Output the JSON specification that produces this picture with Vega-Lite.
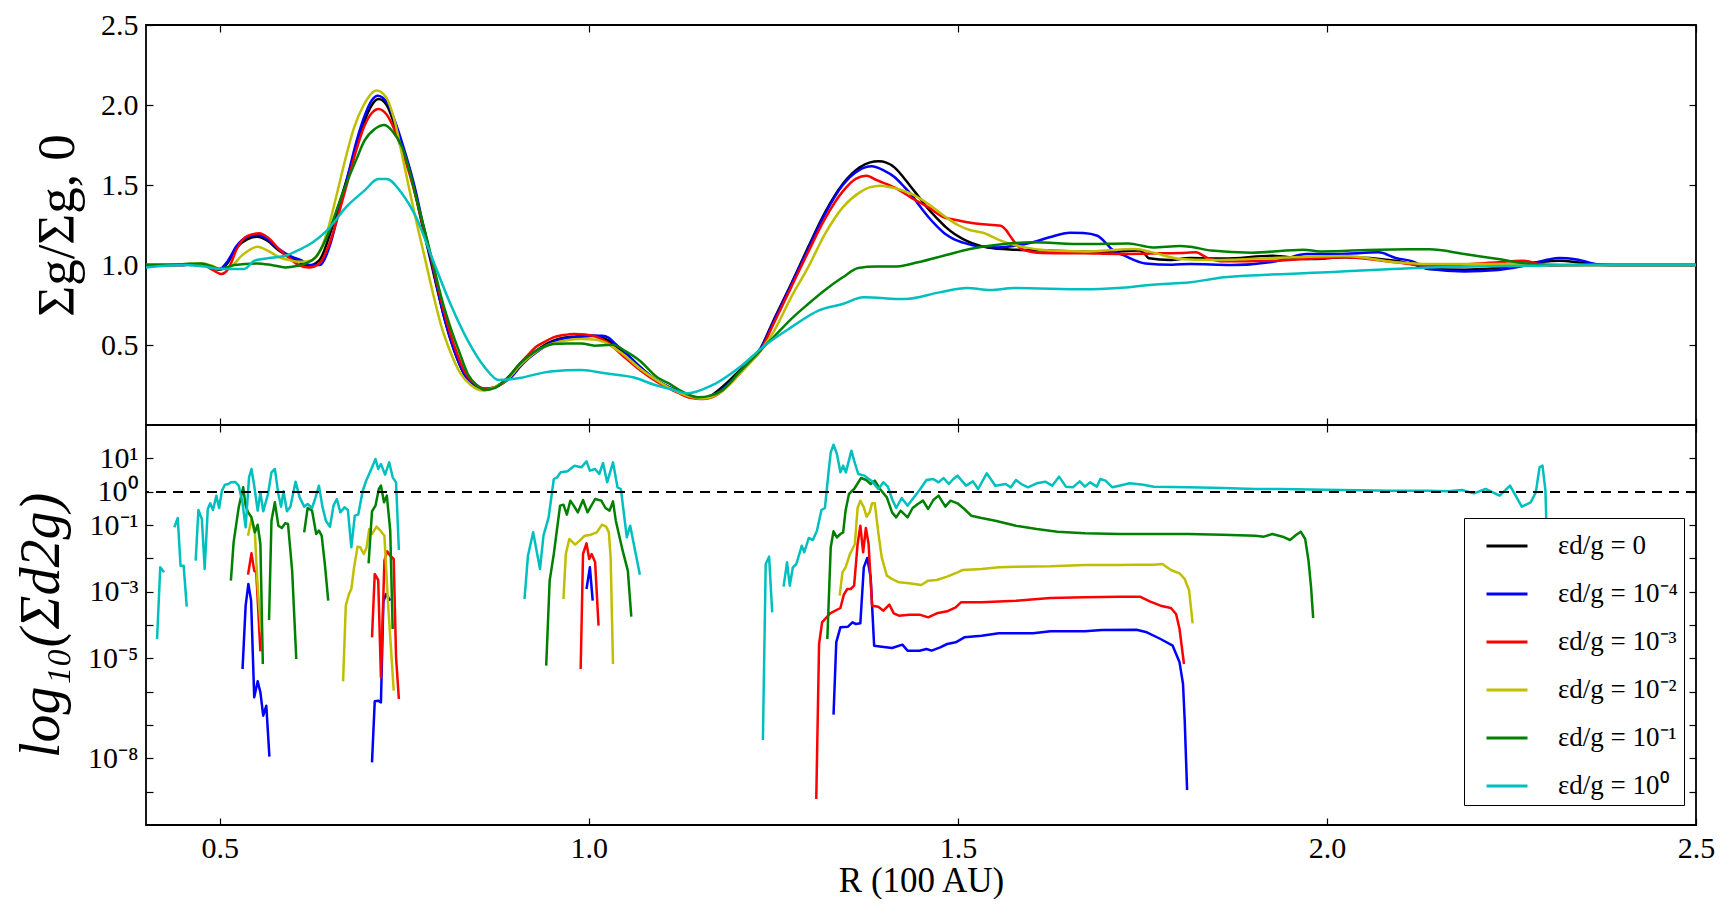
{
  "$schema": "https://vega.github.io/schema/vega-lite/v6.json",
  "background": "white",
  "padding": {"left": 12, "top": 9, "right": 0, "bottom": 0},
  "spacing": 0,
  "bounds": "flush",
  "config": {
    "font": "Liberation Serif",
    "view": {"stroke": "black", "strokeWidth": 1.8},
    "axis": {
      "domain": false, "grid": false, "tickSize": -7, "tickWidth": 1.2, "tickColor": "black",
      "labelFont": "Liberation Serif", "labelFontSize": 30, "labelColor": "black", "labelPadding": 15,
      "labelFlush": false, "labelOverlap": false,
      "titleFont": "Liberation Serif", "titleFontWeight": "normal", "titleColor": "black"
    }
  },
  "resolve": {"legend": {"color": "independent"}},
  "datasets": {
    "gas": [
      {"R":0.40,"v":1.0,"s":"0"},{"R":0.45,"v":1.0,"s":"0"},{"R":0.475,"v":1.005,"s":"0"},{"R":0.49,"v":0.98,"s":"0"},{"R":0.50,"v":0.97,"s":"0"},{"R":0.51,"v":1.01,"s":"0"},{"R":0.523,"v":1.11,"s":"0"},{"R":0.537,"v":1.16,"s":"0"},{"R":0.551,"v":1.177,"s":"0"},{"R":0.565,"v":1.15,"s":"0"},{"R":0.58,"v":1.09,"s":"0"},{"R":0.595,"v":1.05,"s":"0"},{"R":0.607,"v":1.02,"s":"0"},{"R":0.621,"v":0.996,"s":"0"},{"R":0.635,"v":1.03,"s":"0"},{"R":0.649,"v":1.19,"s":"0"},{"R":0.661,"v":1.37,"s":"0"},{"R":0.673,"v":1.55,"s":"0"},{"R":0.685,"v":1.74,"s":"0"},{"R":0.696,"v":1.9,"s":"0"},{"R":0.706,"v":2.0,"s":"0"},{"R":0.715,"v":2.037,"s":"0"},{"R":0.726,"v":2.0,"s":"0"},{"R":0.738,"v":1.86,"s":"0"},{"R":0.748,"v":1.72,"s":"0"},{"R":0.757,"v":1.59,"s":"0"},{"R":0.766,"v":1.42,"s":"0"},{"R":0.775,"v":1.235,"s":"0"},{"R":0.785,"v":1.04,"s":"0"},{"R":0.794,"v":0.86,"s":"0"},{"R":0.803,"v":0.69,"s":"0"},{"R":0.813,"v":0.527,"s":"0"},{"R":0.822,"v":0.41,"s":"0"},{"R":0.831,"v":0.318,"s":"0"},{"R":0.845,"v":0.25,"s":"0"},{"R":0.859,"v":0.225,"s":"0"},{"R":0.872,"v":0.235,"s":"0"},{"R":0.883,"v":0.267,"s":"0"},{"R":0.895,"v":0.32,"s":"0"},{"R":0.906,"v":0.381,"s":"0"},{"R":0.918,"v":0.425,"s":"0"},{"R":0.929,"v":0.465,"s":"0"},{"R":0.94,"v":0.5,"s":"0"},{"R":0.952,"v":0.527,"s":"0"},{"R":0.966,"v":0.545,"s":"0"},{"R":0.98,"v":0.552,"s":"0"},{"R":0.995,"v":0.556,"s":"0"},{"R":1.008,"v":0.558,"s":"0"},{"R":1.018,"v":0.548,"s":"0"},{"R":1.027,"v":0.527,"s":"0"},{"R":1.04,"v":0.48,"s":"0"},{"R":1.055,"v":0.423,"s":"0"},{"R":1.075,"v":0.34,"s":"0"},{"R":1.092,"v":0.277,"s":"0"},{"R":1.11,"v":0.23,"s":"0"},{"R":1.124,"v":0.205,"s":"0"},{"R":1.138,"v":0.18,"s":"0"},{"R":1.153,"v":0.167,"s":"0"},{"R":1.166,"v":0.185,"s":"0"},{"R":1.18,"v":0.235,"s":"0"},{"R":1.192,"v":0.285,"s":"0"},{"R":1.204,"v":0.34,"s":"0"},{"R":1.218,"v":0.4,"s":"0"},{"R":1.232,"v":0.475,"s":"0"},{"R":1.25,"v":0.652,"s":"0"},{"R":1.274,"v":0.881,"s":"0"},{"R":1.297,"v":1.11,"s":"0"},{"R":1.32,"v":1.329,"s":"0"},{"R":1.344,"v":1.506,"s":"0"},{"R":1.367,"v":1.61,"s":"0"},{"R":1.38,"v":1.64,"s":"0"},{"R":1.393,"v":1.648,"s":"0"},{"R":1.403,"v":1.64,"s":"0"},{"R":1.414,"v":1.61,"s":"0"},{"R":1.425,"v":1.555,"s":"0"},{"R":1.437,"v":1.485,"s":"0"},{"R":1.448,"v":1.42,"s":"0"},{"R":1.46,"v":1.35,"s":"0"},{"R":1.472,"v":1.29,"s":"0"},{"R":1.484,"v":1.235,"s":"0"},{"R":1.495,"v":1.195,"s":"0"},{"R":1.507,"v":1.162,"s":"0"},{"R":1.52,"v":1.135,"s":"0"},{"R":1.54,"v":1.11,"s":"0"},{"R":1.577,"v":1.096,"s":"0"},{"R":1.624,"v":1.09,"s":"0"},{"R":1.671,"v":1.083,"s":"0"},{"R":1.717,"v":1.085,"s":"0"},{"R":1.745,"v":1.09,"s":"0"},{"R":1.752,"v":1.075,"s":"0"},{"R":1.759,"v":1.042,"s":"0"},{"R":1.787,"v":1.031,"s":"0"},{"R":1.815,"v":1.044,"s":"0"},{"R":1.861,"v":1.04,"s":"0"},{"R":1.926,"v":1.058,"s":"0"},{"R":1.977,"v":1.037,"s":"0"},{"R":2.024,"v":1.048,"s":"0"},{"R":2.093,"v":1.027,"s":"0"},{"R":2.12,"v":1.0,"s":"0"},{"R":2.139,"v":0.975,"s":"0"},{"R":2.186,"v":0.971,"s":"0"},{"R":2.225,"v":0.98,"s":"0"},{"R":2.255,"v":0.996,"s":"0"},{"R":2.29,"v":1.02,"s":"0"},{"R":2.315,"v":1.027,"s":"0"},{"R":2.345,"v":1.015,"s":"0"},{"R":2.371,"v":1.002,"s":"0"},{"R":2.4,"v":1.0,"s":"0"},{"R":2.5,"v":1.0,"s":"0"},

      {"R":0.40,"v":1.0,"s":"10⁻⁴"},{"R":0.45,"v":1.0,"s":"10⁻⁴"},{"R":0.475,"v":1.005,"s":"10⁻⁴"},{"R":0.49,"v":0.985,"s":"10⁻⁴"},{"R":0.50,"v":0.975,"s":"10⁻⁴"},{"R":0.51,"v":1.02,"s":"10⁻⁴"},{"R":0.523,"v":1.12,"s":"10⁻⁴"},{"R":0.537,"v":1.175,"s":"10⁻⁴"},{"R":0.551,"v":1.187,"s":"10⁻⁴"},{"R":0.565,"v":1.16,"s":"10⁻⁴"},{"R":0.58,"v":1.1,"s":"10⁻⁴"},{"R":0.598,"v":1.05,"s":"10⁻⁴"},{"R":0.61,"v":1.03,"s":"10⁻⁴"},{"R":0.621,"v":1.0,"s":"10⁻⁴"},{"R":0.635,"v":1.0,"s":"10⁻⁴"},{"R":0.649,"v":1.12,"s":"10⁻⁴"},{"R":0.661,"v":1.33,"s":"10⁻⁴"},{"R":0.673,"v":1.55,"s":"10⁻⁴"},{"R":0.685,"v":1.77,"s":"10⁻⁴"},{"R":0.696,"v":1.93,"s":"10⁻⁴"},{"R":0.706,"v":2.03,"s":"10⁻⁴"},{"R":0.714,"v":2.058,"s":"10⁻⁴"},{"R":0.726,"v":2.02,"s":"10⁻⁴"},{"R":0.738,"v":1.89,"s":"10⁻⁴"},{"R":0.748,"v":1.75,"s":"10⁻⁴"},{"R":0.757,"v":1.61,"s":"10⁻⁴"},{"R":0.766,"v":1.45,"s":"10⁻⁴"},{"R":0.775,"v":1.26,"s":"10⁻⁴"},{"R":0.785,"v":1.06,"s":"10⁻⁴"},{"R":0.794,"v":0.87,"s":"10⁻⁴"},{"R":0.803,"v":0.69,"s":"10⁻⁴"},{"R":0.813,"v":0.53,"s":"10⁻⁴"},{"R":0.822,"v":0.41,"s":"10⁻⁴"},{"R":0.831,"v":0.318,"s":"10⁻⁴"},{"R":0.845,"v":0.25,"s":"10⁻⁴"},{"R":0.859,"v":0.225,"s":"10⁻⁴"},{"R":0.872,"v":0.235,"s":"10⁻⁴"},{"R":0.883,"v":0.26,"s":"10⁻⁴"},{"R":0.895,"v":0.3,"s":"10⁻⁴"},{"R":0.906,"v":0.36,"s":"10⁻⁴"},{"R":0.918,"v":0.415,"s":"10⁻⁴"},{"R":0.929,"v":0.455,"s":"10⁻⁴"},{"R":0.94,"v":0.49,"s":"10⁻⁴"},{"R":0.952,"v":0.52,"s":"10⁻⁴"},{"R":0.966,"v":0.54,"s":"10⁻⁴"},{"R":0.98,"v":0.548,"s":"10⁻⁴"},{"R":0.995,"v":0.555,"s":"10⁻⁴"},{"R":1.008,"v":0.558,"s":"10⁻⁴"},{"R":1.018,"v":0.558,"s":"10⁻⁴"},{"R":1.027,"v":0.545,"s":"10⁻⁴"},{"R":1.036,"v":0.506,"s":"10⁻⁴"},{"R":1.05,"v":0.45,"s":"10⁻⁴"},{"R":1.07,"v":0.36,"s":"10⁻⁴"},{"R":1.092,"v":0.28,"s":"10⁻⁴"},{"R":1.11,"v":0.235,"s":"10⁻⁴"},{"R":1.124,"v":0.205,"s":"10⁻⁴"},{"R":1.138,"v":0.18,"s":"10⁻⁴"},{"R":1.153,"v":0.167,"s":"10⁻⁴"},{"R":1.166,"v":0.18,"s":"10⁻⁴"},{"R":1.18,"v":0.22,"s":"10⁻⁴"},{"R":1.192,"v":0.27,"s":"10⁻⁴"},{"R":1.204,"v":0.33,"s":"10⁻⁴"},{"R":1.218,"v":0.4,"s":"10⁻⁴"},{"R":1.232,"v":0.47,"s":"10⁻⁴"},{"R":1.25,"v":0.645,"s":"10⁻⁴"},{"R":1.274,"v":0.875,"s":"10⁻⁴"},{"R":1.297,"v":1.1,"s":"10⁻⁴"},{"R":1.32,"v":1.32,"s":"10⁻⁴"},{"R":1.344,"v":1.5,"s":"10⁻⁴"},{"R":1.365,"v":1.59,"s":"10⁻⁴"},{"R":1.383,"v":1.617,"s":"10⁻⁴"},{"R":1.4,"v":1.59,"s":"10⁻⁴"},{"R":1.414,"v":1.55,"s":"10⁻⁴"},{"R":1.425,"v":1.5,"s":"10⁻⁴"},{"R":1.437,"v":1.44,"s":"10⁻⁴"},{"R":1.448,"v":1.37,"s":"10⁻⁴"},{"R":1.46,"v":1.3,"s":"10⁻⁴"},{"R":1.472,"v":1.24,"s":"10⁻⁴"},{"R":1.484,"v":1.19,"s":"10⁻⁴"},{"R":1.495,"v":1.16,"s":"10⁻⁴"},{"R":1.507,"v":1.14,"s":"10⁻⁴"},{"R":1.53,"v":1.115,"s":"10⁻⁴"},{"R":1.554,"v":1.11,"s":"10⁻⁴"},{"R":1.577,"v":1.12,"s":"10⁻⁴"},{"R":1.6,"v":1.14,"s":"10⁻⁴"},{"R":1.624,"v":1.173,"s":"10⁻⁴"},{"R":1.652,"v":1.202,"s":"10⁻⁴"},{"R":1.67,"v":1.2,"s":"10⁻⁴"},{"R":1.689,"v":1.183,"s":"10⁻⁴"},{"R":1.7,"v":1.14,"s":"10⁻⁴"},{"R":1.708,"v":1.1,"s":"10⁻⁴"},{"R":1.726,"v":1.058,"s":"10⁻⁴"},{"R":1.754,"v":1.01,"s":"10⁻⁴"},{"R":1.79,"v":1.002,"s":"10⁻⁴"},{"R":1.815,"v":1.006,"s":"10⁻⁴"},{"R":1.871,"v":1.0,"s":"10⁻⁴"},{"R":1.931,"v":1.023,"s":"10⁻⁴"},{"R":1.973,"v":1.069,"s":"10⁻⁴"},{"R":2.014,"v":1.069,"s":"10⁻⁴"},{"R":2.07,"v":1.079,"s":"10⁻⁴"},{"R":2.093,"v":1.044,"s":"10⁻⁴"},{"R":2.116,"v":1.023,"s":"10⁻⁴"},{"R":2.139,"v":0.975,"s":"10⁻⁴"},{"R":2.186,"v":0.96,"s":"10⁻⁴"},{"R":2.232,"v":0.969,"s":"10⁻⁴"},{"R":2.269,"v":0.996,"s":"10⁻⁴"},{"R":2.3,"v":1.035,"s":"10⁻⁴"},{"R":2.315,"v":1.044,"s":"10⁻⁴"},{"R":2.338,"v":1.035,"s":"10⁻⁴"},{"R":2.371,"v":1.002,"s":"10⁻⁴"},{"R":2.4,"v":1.0,"s":"10⁻⁴"},{"R":2.5,"v":1.0,"s":"10⁻⁴"},

      {"R":0.40,"v":1.0,"s":"10⁻³"},{"R":0.45,"v":1.0,"s":"10⁻³"},{"R":0.475,"v":1.005,"s":"10⁻³"},{"R":0.49,"v":0.97,"s":"10⁻³"},{"R":0.502,"v":0.944,"s":"10⁻³"},{"R":0.512,"v":0.98,"s":"10⁻³"},{"R":0.523,"v":1.1,"s":"10⁻³"},{"R":0.537,"v":1.18,"s":"10⁻³"},{"R":0.553,"v":1.198,"s":"10⁻³"},{"R":0.567,"v":1.165,"s":"10⁻³"},{"R":0.58,"v":1.1,"s":"10⁻³"},{"R":0.595,"v":1.04,"s":"10⁻³"},{"R":0.607,"v":1.0,"s":"10⁻³"},{"R":0.621,"v":0.985,"s":"10⁻³"},{"R":0.635,"v":1.01,"s":"10⁻³"},{"R":0.649,"v":1.14,"s":"10⁻³"},{"R":0.661,"v":1.32,"s":"10⁻³"},{"R":0.673,"v":1.52,"s":"10⁻³"},{"R":0.685,"v":1.72,"s":"10⁻³"},{"R":0.696,"v":1.87,"s":"10⁻³"},{"R":0.706,"v":1.95,"s":"10⁻³"},{"R":0.715,"v":1.975,"s":"10⁻³"},{"R":0.726,"v":1.94,"s":"10⁻³"},{"R":0.738,"v":1.83,"s":"10⁻³"},{"R":0.748,"v":1.7,"s":"10⁻³"},{"R":0.757,"v":1.57,"s":"10⁻³"},{"R":0.766,"v":1.42,"s":"10⁻³"},{"R":0.775,"v":1.25,"s":"10⁻³"},{"R":0.785,"v":1.07,"s":"10⁻³"},{"R":0.794,"v":0.89,"s":"10⁻³"},{"R":0.803,"v":0.72,"s":"10⁻³"},{"R":0.813,"v":0.56,"s":"10⁻³"},{"R":0.822,"v":0.44,"s":"10⁻³"},{"R":0.831,"v":0.34,"s":"10⁻³"},{"R":0.845,"v":0.26,"s":"10⁻³"},{"R":0.859,"v":0.228,"s":"10⁻³"},{"R":0.872,"v":0.235,"s":"10⁻³"},{"R":0.883,"v":0.26,"s":"10⁻³"},{"R":0.895,"v":0.31,"s":"10⁻³"},{"R":0.906,"v":0.38,"s":"10⁻³"},{"R":0.918,"v":0.44,"s":"10⁻³"},{"R":0.929,"v":0.49,"s":"10⁻³"},{"R":0.94,"v":0.52,"s":"10⁻³"},{"R":0.952,"v":0.548,"s":"10⁻³"},{"R":0.966,"v":0.562,"s":"10⁻³"},{"R":0.98,"v":0.569,"s":"10⁻³"},{"R":0.995,"v":0.565,"s":"10⁻³"},{"R":1.008,"v":0.555,"s":"10⁻³"},{"R":1.027,"v":0.51,"s":"10⁻³"},{"R":1.046,"v":0.433,"s":"10⁻³"},{"R":1.07,"v":0.34,"s":"10⁻³"},{"R":1.092,"v":0.27,"s":"10⁻³"},{"R":1.11,"v":0.225,"s":"10⁻³"},{"R":1.124,"v":0.194,"s":"10⁻³"},{"R":1.138,"v":0.17,"s":"10⁻³"},{"R":1.153,"v":0.162,"s":"10⁻³"},{"R":1.166,"v":0.172,"s":"10⁻³"},{"R":1.18,"v":0.21,"s":"10⁻³"},{"R":1.192,"v":0.26,"s":"10⁻³"},{"R":1.204,"v":0.32,"s":"10⁻³"},{"R":1.218,"v":0.39,"s":"10⁻³"},{"R":1.232,"v":0.46,"s":"10⁻³"},{"R":1.25,"v":0.63,"s":"10⁻³"},{"R":1.274,"v":0.86,"s":"10⁻³"},{"R":1.297,"v":1.08,"s":"10⁻³"},{"R":1.32,"v":1.29,"s":"10⁻³"},{"R":1.344,"v":1.46,"s":"10⁻³"},{"R":1.362,"v":1.54,"s":"10⁻³"},{"R":1.376,"v":1.558,"s":"10⁻³"},{"R":1.39,"v":1.53,"s":"10⁻³"},{"R":1.414,"v":1.485,"s":"10⁻³"},{"R":1.437,"v":1.42,"s":"10⁻³"},{"R":1.46,"v":1.36,"s":"10⁻³"},{"R":1.48,"v":1.3,"s":"10⁻³"},{"R":1.498,"v":1.281,"s":"10⁻³"},{"R":1.515,"v":1.265,"s":"10⁻³"},{"R":1.53,"v":1.256,"s":"10⁻³"},{"R":1.558,"v":1.246,"s":"10⁻³"},{"R":1.565,"v":1.22,"s":"10⁻³"},{"R":1.572,"v":1.173,"s":"10⁻³"},{"R":1.579,"v":1.13,"s":"10⁻³"},{"R":1.586,"v":1.1,"s":"10⁻³"},{"R":1.615,"v":1.075,"s":"10⁻³"},{"R":1.671,"v":1.073,"s":"10⁻³"},{"R":1.717,"v":1.069,"s":"10⁻³"},{"R":1.773,"v":1.073,"s":"10⁻³"},{"R":1.81,"v":1.077,"s":"10⁻³"},{"R":1.822,"v":1.079,"s":"10⁻³"},{"R":1.838,"v":1.044,"s":"10⁻³"},{"R":1.861,"v":1.023,"s":"10⁻³"},{"R":1.931,"v":1.027,"s":"10⁻³"},{"R":2.024,"v":1.048,"s":"10⁻³"},{"R":2.093,"v":1.017,"s":"10⁻³"},{"R":2.139,"v":0.996,"s":"10⁻³"},{"R":2.232,"v":1.017,"s":"10⁻³"},{"R":2.264,"v":1.027,"s":"10⁻³"},{"R":2.301,"v":0.996,"s":"10⁻³"},{"R":2.35,"v":1.0,"s":"10⁻³"},{"R":2.5,"v":1.0,"s":"10⁻³"},

      {"R":0.40,"v":1.0,"s":"10⁻²"},{"R":0.45,"v":1.005,"s":"10⁻²"},{"R":0.475,"v":1.01,"s":"10⁻²"},{"R":0.49,"v":0.995,"s":"10⁻²"},{"R":0.50,"v":0.975,"s":"10⁻²"},{"R":0.515,"v":0.99,"s":"10⁻²"},{"R":0.53,"v":1.06,"s":"10⁻²"},{"R":0.551,"v":1.114,"s":"10⁻²"},{"R":0.565,"v":1.09,"s":"10⁻²"},{"R":0.58,"v":1.05,"s":"10⁻²"},{"R":0.595,"v":1.03,"s":"10⁻²"},{"R":0.61,"v":1.02,"s":"10⁻²"},{"R":0.625,"v":1.03,"s":"10⁻²"},{"R":0.635,"v":1.08,"s":"10⁻²"},{"R":0.645,"v":1.2,"s":"10⁻²"},{"R":0.6586,"v":1.444,"s":"10⁻²"},{"R":0.67,"v":1.66,"s":"10⁻²"},{"R":0.682,"v":1.86,"s":"10⁻²"},{"R":0.695,"v":2.0,"s":"10⁻²"},{"R":0.7122,"v":2.09,"s":"10⁻²"},{"R":0.725,"v":2.05,"s":"10⁻²"},{"R":0.738,"v":1.88,"s":"10⁻²"},{"R":0.75,"v":1.62,"s":"10⁻²"},{"R":0.766,"v":1.277,"s":"10⁻²"},{"R":0.778,"v":1.04,"s":"10⁻²"},{"R":0.789,"v":0.819,"s":"10⁻²"},{"R":0.8,"v":0.62,"s":"10⁻²"},{"R":0.813,"v":0.45,"s":"10⁻²"},{"R":0.825,"v":0.33,"s":"10⁻²"},{"R":0.84,"v":0.25,"s":"10⁻²"},{"R":0.857,"v":0.215,"s":"10⁻²"},{"R":0.872,"v":0.235,"s":"10⁻²"},{"R":0.883,"v":0.265,"s":"10⁻²"},{"R":0.895,"v":0.31,"s":"10⁻²"},{"R":0.906,"v":0.37,"s":"10⁻²"},{"R":0.918,"v":0.42,"s":"10⁻²"},{"R":0.929,"v":0.46,"s":"10⁻²"},{"R":0.94,"v":0.49,"s":"10⁻²"},{"R":0.952,"v":0.51,"s":"10⁻²"},{"R":0.97,"v":0.53,"s":"10⁻²"},{"R":0.99,"v":0.538,"s":"10⁻²"},{"R":1.008,"v":0.535,"s":"10⁻²"},{"R":1.02,"v":0.52,"s":"10⁻²"},{"R":1.046,"v":0.444,"s":"10⁻²"},{"R":1.07,"v":0.35,"s":"10⁻²"},{"R":1.092,"v":0.28,"s":"10⁻²"},{"R":1.11,"v":0.23,"s":"10⁻²"},{"R":1.124,"v":0.2,"s":"10⁻²"},{"R":1.138,"v":0.177,"s":"10⁻²"},{"R":1.153,"v":0.165,"s":"10⁻²"},{"R":1.166,"v":0.175,"s":"10⁻²"},{"R":1.18,"v":0.21,"s":"10⁻²"},{"R":1.204,"v":0.32,"s":"10⁻²"},{"R":1.232,"v":0.46,"s":"10⁻²"},{"R":1.25,"v":0.58,"s":"10⁻²"},{"R":1.274,"v":0.798,"s":"10⁻²"},{"R":1.297,"v":0.985,"s":"10⁻²"},{"R":1.32,"v":1.194,"s":"10⁻²"},{"R":1.344,"v":1.36,"s":"10⁻²"},{"R":1.367,"v":1.454,"s":"10⁻²"},{"R":1.38,"v":1.485,"s":"10⁻²"},{"R":1.395,"v":1.496,"s":"10⁻²"},{"R":1.415,"v":1.48,"s":"10⁻²"},{"R":1.437,"v":1.444,"s":"10⁻²"},{"R":1.46,"v":1.381,"s":"10⁻²"},{"R":1.484,"v":1.298,"s":"10⁻²"},{"R":1.5,"v":1.25,"s":"10⁻²"},{"R":1.516,"v":1.219,"s":"10⁻²"},{"R":1.535,"v":1.2,"s":"10⁻²"},{"R":1.558,"v":1.152,"s":"10⁻²"},{"R":1.591,"v":1.11,"s":"10⁻²"},{"R":1.624,"v":1.09,"s":"10⁻²"},{"R":1.671,"v":1.085,"s":"10⁻²"},{"R":1.74,"v":1.1,"s":"10⁻²"},{"R":1.764,"v":1.079,"s":"10⁻²"},{"R":1.801,"v":1.038,"s":"10⁻²"},{"R":1.842,"v":1.031,"s":"10⁻²"},{"R":1.954,"v":1.048,"s":"10⁻²"},{"R":2.024,"v":1.056,"s":"10⁻²"},{"R":2.093,"v":1.017,"s":"10⁻²"},{"R":2.139,"v":1.006,"s":"10⁻²"},{"R":2.25,"v":1.006,"s":"10⁻²"},{"R":2.3,"v":1.0,"s":"10⁻²"},{"R":2.5,"v":1.0,"s":"10⁻²"},

      {"R":0.40,"v":1.0,"s":"10⁻¹"},{"R":0.45,"v":1.005,"s":"10⁻¹"},{"R":0.475,"v":1.01,"s":"10⁻¹"},{"R":0.49,"v":0.99,"s":"10⁻¹"},{"R":0.50,"v":0.975,"s":"10⁻¹"},{"R":0.52,"v":1.0,"s":"10⁻¹"},{"R":0.551,"v":1.01,"s":"10⁻¹"},{"R":0.57,"v":1.0,"s":"10⁻¹"},{"R":0.589,"v":0.985,"s":"10⁻¹"},{"R":0.605,"v":0.995,"s":"10⁻¹"},{"R":0.617,"v":1.01,"s":"10⁻¹"},{"R":0.63,"v":1.05,"s":"10⁻¹"},{"R":0.649,"v":1.22,"s":"10⁻¹"},{"R":0.661,"v":1.38,"s":"10⁻¹"},{"R":0.673,"v":1.527,"s":"10⁻¹"},{"R":0.685,"v":1.66,"s":"10⁻¹"},{"R":0.696,"v":1.777,"s":"10⁻¹"},{"R":0.71,"v":1.85,"s":"10⁻¹"},{"R":0.723,"v":1.875,"s":"10⁻¹"},{"R":0.735,"v":1.83,"s":"10⁻¹"},{"R":0.7472,"v":1.735,"s":"10⁻¹"},{"R":0.757,"v":1.59,"s":"10⁻¹"},{"R":0.766,"v":1.423,"s":"10⁻¹"},{"R":0.778,"v":1.21,"s":"10⁻¹"},{"R":0.789,"v":1.006,"s":"10⁻¹"},{"R":0.8,"v":0.8,"s":"10⁻¹"},{"R":0.8125,"v":0.61,"s":"10⁻¹"},{"R":0.825,"v":0.45,"s":"10⁻¹"},{"R":0.836,"v":0.319,"s":"10⁻¹"},{"R":0.848,"v":0.25,"s":"10⁻¹"},{"R":0.859,"v":0.219,"s":"10⁻¹"},{"R":0.872,"v":0.23,"s":"10⁻¹"},{"R":0.883,"v":0.265,"s":"10⁻¹"},{"R":0.895,"v":0.32,"s":"10⁻¹"},{"R":0.906,"v":0.38,"s":"10⁻¹"},{"R":0.918,"v":0.43,"s":"10⁻¹"},{"R":0.929,"v":0.465,"s":"10⁻¹"},{"R":0.94,"v":0.49,"s":"10⁻¹"},{"R":0.952,"v":0.506,"s":"10⁻¹"},{"R":0.97,"v":0.51,"s":"10⁻¹"},{"R":0.99,"v":0.51,"s":"10⁻¹"},{"R":1.008,"v":0.496,"s":"10⁻¹"},{"R":1.032,"v":0.502,"s":"10⁻¹"},{"R":1.05,"v":0.46,"s":"10⁻¹"},{"R":1.069,"v":0.402,"s":"10⁻¹"},{"R":1.092,"v":0.3,"s":"10⁻¹"},{"R":1.11,"v":0.256,"s":"10⁻¹"},{"R":1.124,"v":0.215,"s":"10⁻¹"},{"R":1.148,"v":0.173,"s":"10⁻¹"},{"R":1.166,"v":0.185,"s":"10⁻¹"},{"R":1.18,"v":0.215,"s":"10⁻¹"},{"R":1.204,"v":0.33,"s":"10⁻¹"},{"R":1.232,"v":0.464,"s":"10⁻¹"},{"R":1.25,"v":0.548,"s":"10⁻¹"},{"R":1.274,"v":0.662,"s":"10⁻¹"},{"R":1.297,"v":0.756,"s":"10⁻¹"},{"R":1.32,"v":0.844,"s":"10⁻¹"},{"R":1.344,"v":0.923,"s":"10⁻¹"},{"R":1.365,"v":0.981,"s":"10⁻¹"},{"R":1.39,"v":0.99,"s":"10⁻¹"},{"R":1.414,"v":0.99,"s":"10⁻¹"},{"R":1.446,"v":1.017,"s":"10⁻¹"},{"R":1.484,"v":1.062,"s":"10⁻¹"},{"R":1.516,"v":1.1,"s":"10⁻¹"},{"R":1.554,"v":1.127,"s":"10⁻¹"},{"R":1.6,"v":1.142,"s":"10⁻¹"},{"R":1.671,"v":1.131,"s":"10⁻¹"},{"R":1.731,"v":1.135,"s":"10⁻¹"},{"R":1.764,"v":1.11,"s":"10⁻¹"},{"R":1.801,"v":1.119,"s":"10⁻¹"},{"R":1.815,"v":1.114,"s":"10⁻¹"},{"R":1.843,"v":1.09,"s":"10⁻¹"},{"R":1.898,"v":1.077,"s":"10⁻¹"},{"R":1.968,"v":1.096,"s":"10⁻¹"},{"R":1.991,"v":1.085,"s":"10⁻¹"},{"R":2.07,"v":1.096,"s":"10⁻¹"},{"R":2.139,"v":1.098,"s":"10⁻¹"},{"R":2.186,"v":1.069,"s":"10⁻¹"},{"R":2.232,"v":1.037,"s":"10⁻¹"},{"R":2.278,"v":1.006,"s":"10⁻¹"},{"R":2.32,"v":1.0,"s":"10⁻¹"},{"R":2.5,"v":1.0,"s":"10⁻¹"},

      {"R":0.40,"v":0.985,"s":"10⁰"},{"R":0.453,"v":1.0,"s":"10⁰"},{"R":0.48,"v":0.99,"s":"10⁰"},{"R":0.5,"v":0.975,"s":"10⁰"},{"R":0.533,"v":0.975,"s":"10⁰"},{"R":0.547,"v":1.027,"s":"10⁰"},{"R":0.57,"v":1.045,"s":"10⁰"},{"R":0.589,"v":1.058,"s":"10⁰"},{"R":0.607,"v":1.094,"s":"10⁰"},{"R":0.626,"v":1.142,"s":"10⁰"},{"R":0.645,"v":1.215,"s":"10⁰"},{"R":0.673,"v":1.371,"s":"10⁰"},{"R":0.696,"v":1.465,"s":"10⁰"},{"R":0.7146,"v":1.537,"s":"10⁰"},{"R":0.726,"v":1.537,"s":"10⁰"},{"R":0.7472,"v":1.444,"s":"10⁰"},{"R":0.766,"v":1.298,"s":"10⁰"},{"R":0.789,"v":1.027,"s":"10⁰"},{"R":0.8125,"v":0.756,"s":"10⁰"},{"R":0.836,"v":0.527,"s":"10⁰"},{"R":0.859,"v":0.36,"s":"10⁰"},{"R":0.878,"v":0.281,"s":"10⁰"},{"R":0.906,"v":0.294,"s":"10⁰"},{"R":0.948,"v":0.335,"s":"10⁰"},{"R":0.99,"v":0.344,"s":"10⁰"},{"R":1.022,"v":0.323,"s":"10⁰"},{"R":1.06,"v":0.298,"s":"10⁰"},{"R":1.09,"v":0.25,"s":"10⁰"},{"R":1.11,"v":0.225,"s":"10⁰"},{"R":1.134,"v":0.198,"s":"10⁰"},{"R":1.166,"v":0.246,"s":"10⁰"},{"R":1.204,"v":0.36,"s":"10⁰"},{"R":1.241,"v":0.506,"s":"10⁰"},{"R":1.274,"v":0.61,"s":"10⁰"},{"R":1.311,"v":0.715,"s":"10⁰"},{"R":1.344,"v":0.756,"s":"10⁰"},{"R":1.372,"v":0.798,"s":"10⁰"},{"R":1.428,"v":0.787,"s":"10⁰"},{"R":1.475,"v":0.829,"s":"10⁰"},{"R":1.512,"v":0.856,"s":"10⁰"},{"R":1.544,"v":0.844,"s":"10⁰"},{"R":1.577,"v":0.856,"s":"10⁰"},{"R":1.671,"v":0.848,"s":"10⁰"},{"R":1.717,"v":0.856,"s":"10⁰"},{"R":1.764,"v":0.877,"s":"10⁰"},{"R":1.815,"v":0.892,"s":"10⁰"},{"R":1.861,"v":0.923,"s":"10⁰"},{"R":2.0,"v":0.954,"s":"10⁰"},{"R":2.139,"v":0.985,"s":"10⁰"},{"R":2.278,"v":0.996,"s":"10⁰"},{"R":2.35,"v":1.0,"s":"10⁰"},{"R":2.5,"v":1.0,"s":"10⁰"}
    ],
    "dust": [
      {"R":0.5308,"v":-5.32,"s":"10⁻⁴","g":"b1"},{"R":0.535,"v":-3.42,"s":"10⁻⁴","g":"b1"},{"R":0.5387,"v":-2.77,"s":"10⁻⁴","g":"b1"},{"R":0.5424,"v":-3.27,"s":"10⁻⁴","g":"b1"},{"R":0.5466,"v":-6.17,"s":"10⁻⁴","g":"b1"},{"R":0.5513,"v":-5.69,"s":"10⁻⁴","g":"b1"},{"R":0.555,"v":-6.02,"s":"10⁻⁴","g":"b1"},{"R":0.5588,"v":-6.72,"s":"10⁻⁴","g":"b1"},{"R":0.563,"v":-6.42,"s":"10⁻⁴","g":"b1"},{"R":0.5672,"v":-7.95,"s":"10⁻⁴","g":"b1"},
      {"R":0.7062,"v":-8.12,"s":"10⁻⁴","g":"b2"},{"R":0.7099,"v":-6.29,"s":"10⁻⁴","g":"b2"},{"R":0.7146,"v":-6.27,"s":"10⁻⁴","g":"b2"},{"R":0.7183,"v":-6.32,"s":"10⁻⁴","g":"b2"},{"R":0.7216,"v":-3.3,"s":"10⁻⁴","g":"b2"},{"R":0.7253,"v":-3.07,"s":"10⁻⁴","g":"b2"},{"R":0.7309,"v":-3.27,"s":"10⁻⁴","g":"b2"},
      {"R":0.9968,"v":-2.92,"s":"10⁻⁴","g":"b3"},{"R":1.0014,"v":-2.27,"s":"10⁻⁴","g":"b3"},{"R":1.0052,"v":-3.27,"s":"10⁻⁴","g":"b3"},
      {"R":1.3315,"v":-6.69,"s":"10⁻⁴","g":"b4"},{"R":1.3352,"v":-4.52,"s":"10⁻⁴","g":"b4"},{"R":1.3408,"v":-4.07,"s":"10⁻⁴","g":"b4"},{"R":1.3511,"v":-4.05,"s":"10⁻⁴","g":"b4"},{"R":1.3571,"v":-3.92,"s":"10⁻⁴","g":"b4"},{"R":1.3618,"v":-3.97,"s":"10⁻⁴","g":"b4"},{"R":1.3678,"v":-3.95,"s":"10⁻⁴","g":"b4"},{"R":1.3725,"v":-2.27,"s":"10⁻⁴","g":"b4"},{"R":1.3772,"v":-1.99,"s":"10⁻⁴","g":"b4"},{"R":1.3818,"v":-2.57,"s":"10⁻⁴","g":"b4"},{"R":1.3865,"v":-4.62,"s":"10⁻⁴","g":"b4"},{"R":1.3968,"v":-4.65,"s":"10⁻⁴","g":"b4"},{"R":1.4108,"v":-4.69,"s":"10⁻⁴","g":"b4"},{"R":1.4248,"v":-4.59,"s":"10⁻⁴","g":"b4"},{"R":1.4318,"v":-4.77,"s":"10⁻⁴","g":"b4"},{"R":1.4481,"v":-4.77,"s":"10⁻⁴","g":"b4"},{"R":1.4574,"v":-4.72,"s":"10⁻⁴","g":"b4"},{"R":1.4644,"v":-4.77,"s":"10⁻⁴","g":"b4"},{"R":1.476,"v":-4.67,"s":"10⁻⁴","g":"b4"},{"R":1.4854,"v":-4.57,"s":"10⁻⁴","g":"b4"},{"R":1.497,"v":-4.52,"s":"10⁻⁴","g":"b4"},{"R":1.5087,"v":-4.37,"s":"10⁻⁴","g":"b4"},{"R":1.532,"v":-4.32,"s":"10⁻⁴","g":"b4"},{"R":1.5554,"v":-4.25,"s":"10⁻⁴","g":"b4"},{"R":1.602,"v":-4.25,"s":"10⁻⁴","g":"b4"},{"R":1.6253,"v":-4.19,"s":"10⁻⁴","g":"b4"},{"R":1.672,"v":-4.19,"s":"10⁻⁴","g":"b4"},{"R":1.6953,"v":-4.15,"s":"10⁻⁴","g":"b4"},{"R":1.742,"v":-4.14,"s":"10⁻⁴","g":"b4"},{"R":1.756,"v":-4.22,"s":"10⁻⁴","g":"b4"},{"R":1.7746,"v":-4.42,"s":"10⁻⁴","g":"b4"},{"R":1.791,"v":-4.62,"s":"10⁻⁴","g":"b4"},{"R":1.8003,"v":-5.12,"s":"10⁻⁴","g":"b4"},{"R":1.805,"v":-5.77,"s":"10⁻⁴","g":"b4"},{"R":1.8073,"v":-6.87,"s":"10⁻⁴","g":"b4"},{"R":1.8105,"v":-8.95,"s":"10⁻⁴","g":"b4"},

      {"R":0.5382,"v":-2.49,"s":"10⁻³","g":"r1"},{"R":0.5429,"v":-1.85,"s":"10⁻³","g":"r1"},{"R":0.5466,"v":-2.37,"s":"10⁻³","g":"r1"},{"R":0.5494,"v":-2.42,"s":"10⁻³","g":"r1"},{"R":0.555,"v":-4.79,"s":"10⁻³","g":"r1"},
      {"R":0.7062,"v":-4.37,"s":"10⁻³","g":"r2"},{"R":0.7099,"v":-2.47,"s":"10⁻³","g":"r2"},{"R":0.7146,"v":-2.65,"s":"10⁻³","g":"r2"},{"R":0.7183,"v":-5.57,"s":"10⁻³","g":"r2"},{"R":0.723,"v":-2.07,"s":"10⁻³","g":"r2"},{"R":0.7267,"v":-1.79,"s":"10⁻³","g":"r2"},{"R":0.7309,"v":-1.92,"s":"10⁻³","g":"r2"},{"R":0.7356,"v":-2.02,"s":"10⁻³","g":"r2"},{"R":0.7388,"v":-4.97,"s":"10⁻³","g":"r2"},{"R":0.7426,"v":-6.22,"s":"10⁻³","g":"r2"},
      {"R":0.9889,"v":-5.32,"s":"10⁻³","g":"r3"},{"R":0.9921,"v":-1.87,"s":"10⁻³","g":"r3"},{"R":0.9968,"v":-1.55,"s":"10⁻³","g":"r3"},{"R":1.0005,"v":-2.02,"s":"10⁻³","g":"r3"},{"R":1.0038,"v":-1.87,"s":"10⁻³","g":"r3"},{"R":1.0085,"v":-2.12,"s":"10⁻³","g":"r3"},{"R":1.0131,"v":-4.02,"s":"10⁻³","g":"r3"},
      {"R":1.3081,"v":-9.22,"s":"10⁻³","g":"r4"},{"R":1.3119,"v":-4.57,"s":"10⁻³","g":"r4"},{"R":1.316,"v":-3.92,"s":"10⁻³","g":"r4"},{"R":1.3268,"v":-3.65,"s":"10⁻³","g":"r4"},{"R":1.3408,"v":-3.49,"s":"10⁻³","g":"r4"},{"R":1.3455,"v":-3.09,"s":"10⁻³","g":"r4"},{"R":1.3501,"v":-2.92,"s":"10⁻³","g":"r4"},{"R":1.3548,"v":-2.92,"s":"10⁻³","g":"r4"},{"R":1.3594,"v":-2.82,"s":"10⁻³","g":"r4"},{"R":1.3641,"v":-1.57,"s":"10⁻³","g":"r4"},{"R":1.3678,"v":-1.02,"s":"10⁻³","g":"r4"},{"R":1.3716,"v":-1.82,"s":"10⁻³","g":"r4"},{"R":1.3753,"v":-1.09,"s":"10⁻³","g":"r4"},{"R":1.379,"v":-1.57,"s":"10⁻³","g":"r4"},{"R":1.3837,"v":-3.42,"s":"10⁻³","g":"r4"},{"R":1.3921,"v":-3.45,"s":"10⁻³","g":"r4"},{"R":1.3991,"v":-3.57,"s":"10⁻³","g":"r4"},{"R":1.4071,"v":-3.39,"s":"10⁻³","g":"r4"},{"R":1.4131,"v":-3.65,"s":"10⁻³","g":"r4"},{"R":1.4201,"v":-3.72,"s":"10⁻³","g":"r4"},{"R":1.4341,"v":-3.69,"s":"10⁻³","g":"r4"},{"R":1.4481,"v":-3.69,"s":"10⁻³","g":"r4"},{"R":1.4597,"v":-3.77,"s":"10⁻³","g":"r4"},{"R":1.4714,"v":-3.65,"s":"10⁻³","g":"r4"},{"R":1.4854,"v":-3.59,"s":"10⁻³","g":"r4"},{"R":1.497,"v":-3.47,"s":"10⁻³","g":"r4"},{"R":1.5041,"v":-3.32,"s":"10⁻³","g":"r4"},{"R":1.532,"v":-3.32,"s":"10⁻³","g":"r4"},{"R":1.5787,"v":-3.27,"s":"10⁻³","g":"r4"},{"R":1.6253,"v":-3.19,"s":"10⁻³","g":"r4"},{"R":1.672,"v":-3.17,"s":"10⁻³","g":"r4"},{"R":1.7186,"v":-3.15,"s":"10⁻³","g":"r4"},{"R":1.7466,"v":-3.15,"s":"10⁻³","g":"r4"},{"R":1.7606,"v":-3.3,"s":"10⁻³","g":"r4"},{"R":1.7746,"v":-3.42,"s":"10⁻³","g":"r4"},{"R":1.7886,"v":-3.49,"s":"10⁻³","g":"r4"},{"R":1.7956,"v":-3.67,"s":"10⁻³","g":"r4"},{"R":1.8003,"v":-4.12,"s":"10⁻³","g":"r4"},{"R":1.8063,"v":-5.17,"s":"10⁻³","g":"r4"},

      {"R":0.5382,"v":-1.32,"s":"10⁻²","g":"y1"},{"R":0.5429,"v":-0.82,"s":"10⁻²","g":"y1"},{"R":0.5476,"v":-1.27,"s":"10⁻²","g":"y1"},{"R":0.5513,"v":-2.87,"s":"10⁻²","g":"y1"},{"R":0.556,"v":-4.2,"s":"10⁻²","g":"y1"},
      {"R":0.667,"v":-5.69,"s":"10⁻²","g":"y2"},{"R":0.6707,"v":-3.42,"s":"10⁻²","g":"y2"},{"R":0.675,"v":-3.07,"s":"10⁻²","g":"y2"},{"R":0.6782,"v":-2.92,"s":"10⁻²","g":"y2"},{"R":0.6819,"v":-2.27,"s":"10⁻²","g":"y2"},{"R":0.6866,"v":-1.65,"s":"10⁻²","g":"y2"},{"R":0.6903,"v":-1.67,"s":"10⁻²","g":"y2"},{"R":0.695,"v":-1.87,"s":"10⁻²","g":"y2"},{"R":0.6987,"v":-1.69,"s":"10⁻²","g":"y2"},{"R":0.7025,"v":-1.12,"s":"10⁻²","g":"y2"},{"R":0.7062,"v":-1.27,"s":"10⁻²","g":"y2"},{"R":0.7123,"v":-1.05,"s":"10⁻²","g":"y2"},{"R":0.7169,"v":-1.15,"s":"10⁻²","g":"y2"},{"R":0.723,"v":-1.32,"s":"10⁻²","g":"y2"},{"R":0.7277,"v":-3.27,"s":"10⁻²","g":"y2"},{"R":0.7356,"v":-5.97,"s":"10⁻²","g":"y2"},
      {"R":0.9656,"v":-3.22,"s":"10⁻²","g":"y3"},{"R":0.9688,"v":-1.87,"s":"10⁻²","g":"y3"},{"R":0.9735,"v":-1.42,"s":"10⁻²","g":"y3"},{"R":0.9814,"v":-1.59,"s":"10⁻²","g":"y3"},{"R":0.9875,"v":-1.47,"s":"10⁻²","g":"y3"},{"R":0.9945,"v":-1.32,"s":"10⁻²","g":"y3"},{"R":1.0014,"v":-1.3,"s":"10⁻²","g":"y3"},{"R":1.0108,"v":-1.22,"s":"10⁻²","g":"y3"},{"R":1.0178,"v":-0.99,"s":"10⁻²","g":"y3"},{"R":1.0234,"v":-1.05,"s":"10⁻²","g":"y3"},{"R":1.0271,"v":-1.22,"s":"10⁻²","g":"y3"},{"R":1.0295,"v":-1.97,"s":"10⁻²","g":"y3"},{"R":1.0327,"v":-5.17,"s":"10⁻²","g":"y3"},
      {"R":1.3398,"v":-3.12,"s":"10⁻²","g":"y4"},{"R":1.3436,"v":-2.42,"s":"10⁻²","g":"y4"},{"R":1.3478,"v":-2.27,"s":"10⁻²","g":"y4"},{"R":1.3538,"v":-1.87,"s":"10⁻²","g":"y4"},{"R":1.3604,"v":-1.57,"s":"10⁻²","g":"y4"},{"R":1.3641,"v":-0.49,"s":"10⁻²","g":"y4"},{"R":1.3678,"v":-0.27,"s":"10⁻²","g":"y4"},{"R":1.3725,"v":-0.47,"s":"10⁻²","g":"y4"},{"R":1.3762,"v":-0.75,"s":"10⁻²","g":"y4"},{"R":1.3804,"v":-0.62,"s":"10⁻²","g":"y4"},{"R":1.3837,"v":-0.35,"s":"10⁻²","g":"y4"},{"R":1.3874,"v":-0.35,"s":"10⁻²","g":"y4"},{"R":1.3921,"v":-1.22,"s":"10⁻²","g":"y4"},{"R":1.3968,"v":-1.97,"s":"10⁻²","g":"y4"},{"R":1.4037,"v":-2.52,"s":"10⁻²","g":"y4"},{"R":1.4108,"v":-2.62,"s":"10⁻²","g":"y4"},{"R":1.4201,"v":-2.72,"s":"10⁻²","g":"y4"},{"R":1.4341,"v":-2.75,"s":"10⁻²","g":"y4"},{"R":1.4504,"v":-2.8,"s":"10⁻²","g":"y4"},{"R":1.4597,"v":-2.67,"s":"10⁻²","g":"y4"},{"R":1.4714,"v":-2.65,"s":"10⁻²","g":"y4"},{"R":1.4854,"v":-2.55,"s":"10⁻²","g":"y4"},{"R":1.4994,"v":-2.42,"s":"10⁻²","g":"y4"},{"R":1.5064,"v":-2.35,"s":"10⁻²","g":"y4"},{"R":1.532,"v":-2.32,"s":"10⁻²","g":"y4"},{"R":1.5554,"v":-2.27,"s":"10⁻²","g":"y4"},{"R":1.5787,"v":-2.25,"s":"10⁻²","g":"y4"},{"R":1.6253,"v":-2.24,"s":"10⁻²","g":"y4"},{"R":1.672,"v":-2.2,"s":"10⁻²","g":"y4"},{"R":1.7186,"v":-2.2,"s":"10⁻²","g":"y4"},{"R":1.742,"v":-2.19,"s":"10⁻²","g":"y4"},{"R":1.7653,"v":-2.19,"s":"10⁻²","g":"y4"},{"R":1.777,"v":-2.17,"s":"10⁻²","g":"y4"},{"R":1.7886,"v":-2.35,"s":"10⁻²","g":"y4"},{"R":1.8003,"v":-2.45,"s":"10⁻²","g":"y4"},{"R":1.8073,"v":-2.62,"s":"10⁻²","g":"y4"},{"R":1.8133,"v":-2.97,"s":"10⁻²","g":"y4"},{"R":1.818,"v":-3.95,"s":"10⁻²","g":"y4"},

      {"R":0.515,"v":-2.67,"s":"10⁻¹","g":"g1"},{"R":0.5187,"v":-1.52,"s":"10⁻¹","g":"g1"},{"R":0.5256,"v":-0.47,"s":"10⁻¹","g":"g1"},{"R":0.5317,"v":0.13,"s":"10⁻¹","g":"g1"},{"R":0.535,"v":-0.42,"s":"10⁻¹","g":"g1"},{"R":0.5382,"v":-0.62,"s":"10⁻¹","g":"g1"},{"R":0.5429,"v":-0.77,"s":"10⁻¹","g":"g1"},{"R":0.5476,"v":-1.22,"s":"10⁻¹","g":"g1"},{"R":0.5513,"v":-0.99,"s":"10⁻¹","g":"g1"},{"R":0.555,"v":-1.57,"s":"10⁻¹","g":"g1"},{"R":0.5583,"v":-5.17,"s":"10⁻¹","g":"g1"},
      {"R":0.5667,"v":-3.85,"s":"10⁻¹","g":"g2"},{"R":0.57,"v":-0.87,"s":"10⁻¹","g":"g2"},{"R":0.5746,"v":-0.32,"s":"10⁻¹","g":"g2"},{"R":0.5793,"v":-1.02,"s":"10⁻¹","g":"g2"},{"R":0.584,"v":-1.09,"s":"10⁻¹","g":"g2"},{"R":0.5886,"v":-0.95,"s":"10⁻¹","g":"g2"},{"R":0.5924,"v":-0.97,"s":"10⁻¹","g":"g2"},{"R":0.598,"v":-2.37,"s":"10⁻¹","g":"g2"},{"R":0.6036,"v":-5.02,"s":"10⁻¹","g":"g2"},
      {"R":0.6143,"v":-1.22,"s":"10⁻¹","g":"g3"},{"R":0.619,"v":-0.49,"s":"10⁻¹","g":"g3"},{"R":0.625,"v":-0.57,"s":"10⁻¹","g":"g3"},{"R":0.6306,"v":-1.27,"s":"10⁻¹","g":"g3"},{"R":0.6343,"v":-1.17,"s":"10⁻¹","g":"g3"},{"R":0.638,"v":-1.32,"s":"10⁻¹","g":"g3"},{"R":0.6423,"v":-2.17,"s":"10⁻¹","g":"g3"},{"R":0.6469,"v":-3.27,"s":"10⁻¹","g":"g3"},
      {"R":0.7016,"v":-2.15,"s":"10⁻¹","g":"g4"},{"R":0.7062,"v":-0.59,"s":"10⁻¹","g":"g4"},{"R":0.7109,"v":-0.42,"s":"10⁻¹","g":"g4"},{"R":0.7155,"v":0.08,"s":"10⁻¹","g":"g4"},{"R":0.7183,"v":0.18,"s":"10⁻¹","g":"g4"},{"R":0.7225,"v":-0.32,"s":"10⁻¹","g":"g4"},{"R":0.7263,"v":-0.12,"s":"10⁻¹","g":"g4"},{"R":0.7309,"v":-1.17,"s":"10⁻¹","g":"g4"},{"R":0.7342,"v":-4.12,"s":"10⁻¹","g":"g4"},
      {"R":0.9422,"v":-5.22,"s":"10⁻¹","g":"g5"},{"R":0.9469,"v":-2.67,"s":"10⁻¹","g":"g5"},{"R":0.9525,"v":-1.87,"s":"10⁻¹","g":"g5"},{"R":0.961,"v":-0.42,"s":"10⁻¹","g":"g5"},{"R":0.9656,"v":-0.39,"s":"10⁻¹","g":"g5"},{"R":0.9702,"v":-0.69,"s":"10⁻¹","g":"g5"},{"R":0.9749,"v":-0.27,"s":"10⁻¹","g":"g5"},{"R":0.9795,"v":-0.42,"s":"10⁻¹","g":"g5"},{"R":0.9851,"v":-0.62,"s":"10⁻¹","g":"g5"},{"R":0.9921,"v":-0.25,"s":"10⁻¹","g":"g5"},{"R":0.9982,"v":-0.62,"s":"10⁻¹","g":"g5"},{"R":1.0085,"v":-0.22,"s":"10⁻¹","g":"g5"},{"R":1.0169,"v":-0.27,"s":"10⁻¹","g":"g5"},{"R":1.0225,"v":-0.49,"s":"10⁻¹","g":"g5"},{"R":1.0281,"v":-0.57,"s":"10⁻¹","g":"g5"},{"R":1.0327,"v":-0.29,"s":"10⁻¹","g":"g5"},{"R":1.0365,"v":-0.87,"s":"10⁻¹","g":"g5"},{"R":1.0458,"v":-1.77,"s":"10⁻¹","g":"g5"},{"R":1.0528,"v":-2.37,"s":"10⁻¹","g":"g5"},{"R":1.0575,"v":-3.75,"s":"10⁻¹","g":"g5"},
      {"R":1.3231,"v":-4.42,"s":"10⁻¹","g":"g6"},{"R":1.3277,"v":-1.67,"s":"10⁻¹","g":"g6"},{"R":1.3315,"v":-1.19,"s":"10⁻¹","g":"g6"},{"R":1.3361,"v":-1.37,"s":"10⁻¹","g":"g6"},{"R":1.3408,"v":-1.27,"s":"10⁻¹","g":"g6"},{"R":1.3445,"v":-1.22,"s":"10⁻¹","g":"g6"},{"R":1.3478,"v":-0.57,"s":"10⁻¹","g":"g6"},{"R":1.3524,"v":-0.07,"s":"10⁻¹","g":"g6"},{"R":1.3594,"v":0.08,"s":"10⁻¹","g":"g6"},{"R":1.3688,"v":0.41,"s":"10⁻¹","g":"g6"},{"R":1.3758,"v":0.35,"s":"10⁻¹","g":"g6"},{"R":1.3818,"v":0.23,"s":"10⁻¹","g":"g6"},{"R":1.3874,"v":0.33,"s":"10⁻¹","g":"g6"},{"R":1.3944,"v":0.08,"s":"10⁻¹","g":"g6"},{"R":1.4037,"v":-0.17,"s":"10⁻¹","g":"g6"},{"R":1.4108,"v":-0.62,"s":"10⁻¹","g":"g6"},{"R":1.4164,"v":-0.77,"s":"10⁻¹","g":"g6"},{"R":1.4224,"v":-0.57,"s":"10⁻¹","g":"g6"},{"R":1.4318,"v":-0.77,"s":"10⁻¹","g":"g6"},{"R":1.4387,"v":-0.49,"s":"10⁻¹","g":"g6"},{"R":1.4457,"v":-0.37,"s":"10⁻¹","g":"g6"},{"R":1.4527,"v":-0.27,"s":"10⁻¹","g":"g6"},{"R":1.4597,"v":-0.52,"s":"10⁻¹","g":"g6"},{"R":1.4667,"v":-0.25,"s":"10⁻¹","g":"g6"},{"R":1.4737,"v":-0.12,"s":"10⁻¹","g":"g6"},{"R":1.483,"v":-0.45,"s":"10⁻¹","g":"g6"},{"R":1.49,"v":-0.27,"s":"10⁻¹","g":"g6"},{"R":1.4994,"v":-0.35,"s":"10⁻¹","g":"g6"},{"R":1.5087,"v":-0.52,"s":"10⁻¹","g":"g6"},{"R":1.518,"v":-0.72,"s":"10⁻¹","g":"g6"},{"R":1.532,"v":-0.79,"s":"10⁻¹","g":"g6"},{"R":1.5507,"v":-0.87,"s":"10⁻¹","g":"g6"},{"R":1.5787,"v":-1.02,"s":"10⁻¹","g":"g6"},{"R":1.6067,"v":-1.12,"s":"10⁻¹","g":"g6"},{"R":1.6347,"v":-1.2,"s":"10⁻¹","g":"g6"},{"R":1.672,"v":-1.25,"s":"10⁻¹","g":"g6"},{"R":1.7186,"v":-1.27,"s":"10⁻¹","g":"g6"},{"R":1.7653,"v":-1.27,"s":"10⁻¹","g":"g6"},{"R":1.812,"v":-1.27,"s":"10⁻¹","g":"g6"},{"R":1.8586,"v":-1.29,"s":"10⁻¹","g":"g6"},{"R":1.903,"v":-1.32,"s":"10⁻¹","g":"g6"},{"R":1.9146,"v":-1.35,"s":"10⁻¹","g":"g6"},{"R":1.926,"v":-1.27,"s":"10⁻¹","g":"g6"},{"R":1.94,"v":-1.35,"s":"10⁻¹","g":"g6"},{"R":1.95,"v":-1.45,"s":"10⁻¹","g":"g6"},{"R":1.958,"v":-1.3,"s":"10⁻¹","g":"g6"},{"R":1.9645,"v":-1.2,"s":"10⁻¹","g":"g6"},{"R":1.9705,"v":-1.42,"s":"10⁻¹","g":"g6"},{"R":1.975,"v":-2.07,"s":"10⁻¹","g":"g6"},{"R":1.9785,"v":-2.87,"s":"10⁻¹","g":"g6"},{"R":1.9813,"v":-3.79,"s":"10⁻¹","g":"g6"},

      {"R":0.415,"v":-4.42,"s":"10⁰","g":"c1"},{"R":0.4193,"v":-2.27,"s":"10⁰","g":"c1"},{"R":0.4244,"v":-2.42,"s":"10⁰","g":"c1"},
      {"R":0.4384,"v":-1.07,"s":"10⁰","g":"c2"},{"R":0.443,"v":-0.79,"s":"10⁰","g":"c2"},{"R":0.4468,"v":-2.22,"s":"10⁰","g":"c2"},{"R":0.451,"v":-2.22,"s":"10⁰","g":"c2"},{"R":0.4552,"v":-3.45,"s":"10⁰","g":"c2"},
      {"R":0.4673,"v":-2.07,"s":"10⁰","g":"c3"},{"R":0.471,"v":-0.55,"s":"10⁰","g":"c3"},{"R":0.4757,"v":-0.82,"s":"10⁰","g":"c3"},{"R":0.4795,"v":-2.32,"s":"10⁰","g":"c3"},{"R":0.4837,"v":-0.52,"s":"10⁰","g":"c3"},{"R":0.487,"v":-0.35,"s":"10⁰","g":"c3"},{"R":0.4907,"v":-0.55,"s":"10⁰","g":"c3"},{"R":0.4954,"v":-0.12,"s":"10⁰","g":"c3"},{"R":0.4991,"v":-0.49,"s":"10⁰","g":"c3"},{"R":0.5028,"v":0.02,"s":"10⁰","g":"c3"},{"R":0.507,"v":0.21,"s":"10⁰","g":"c3"},{"R":0.5117,"v":0.23,"s":"10⁰","g":"c3"},{"R":0.515,"v":0.28,"s":"10⁰","g":"c3"},{"R":0.521,"v":0.29,"s":"10⁰","g":"c3"},{"R":0.5256,"v":0.18,"s":"10⁰","g":"c3"},{"R":0.5303,"v":-0.27,"s":"10⁰","g":"c3"},{"R":0.535,"v":-1.07,"s":"10⁰","g":"c3"},{"R":0.5396,"v":0.43,"s":"10⁰","g":"c3"},{"R":0.5429,"v":0.68,"s":"10⁰","g":"c3"},{"R":0.5466,"v":0.18,"s":"10⁰","g":"c3"},{"R":0.5513,"v":-0.57,"s":"10⁰","g":"c3"},{"R":0.555,"v":-0.02,"s":"10⁰","g":"c3"},{"R":0.5588,"v":-0.59,"s":"10⁰","g":"c3"},{"R":0.5653,"v":-0.07,"s":"10⁰","g":"c3"},{"R":0.57,"v":0.58,"s":"10⁰","g":"c3"},{"R":0.5746,"v":0.68,"s":"10⁰","g":"c3"},{"R":0.5793,"v":-0.07,"s":"10⁰","g":"c3"},{"R":0.583,"v":-0.45,"s":"10⁰","g":"c3"},{"R":0.5863,"v":0.01,"s":"10⁰","g":"c3"},{"R":0.591,"v":-0.59,"s":"10⁰","g":"c3"},{"R":0.5956,"v":-0.45,"s":"10⁰","g":"c3"},{"R":0.6026,"v":0.3,"s":"10⁰","g":"c3"},{"R":0.6082,"v":-0.17,"s":"10⁰","g":"c3"},{"R":0.6143,"v":-0.45,"s":"10⁰","g":"c3"},{"R":0.619,"v":-0.37,"s":"10⁰","g":"c3"},{"R":0.625,"v":-0.49,"s":"10⁰","g":"c3"},{"R":0.6297,"v":-0.17,"s":"10⁰","g":"c3"},{"R":0.6343,"v":0.18,"s":"10⁰","g":"c3"},{"R":0.639,"v":-0.45,"s":"10⁰","g":"c3"},{"R":0.6437,"v":-0.87,"s":"10⁰","g":"c3"},{"R":0.6493,"v":-1.05,"s":"10⁰","g":"c3"},{"R":0.654,"v":-0.42,"s":"10⁰","g":"c3"},{"R":0.6586,"v":-0.22,"s":"10⁰","g":"c3"},{"R":0.6633,"v":-0.62,"s":"10⁰","g":"c3"},{"R":0.6689,"v":-0.47,"s":"10⁰","g":"c3"},{"R":0.6735,"v":-0.55,"s":"10⁰","g":"c3"},{"R":0.6782,"v":-1.67,"s":"10⁰","g":"c3"},{"R":0.6829,"v":-0.72,"s":"10⁰","g":"c3"},{"R":0.6875,"v":-0.69,"s":"10⁰","g":"c3"},{"R":0.6936,"v":0.02,"s":"10⁰","g":"c3"},{"R":0.6983,"v":0.33,"s":"10⁰","g":"c3"},{"R":0.7053,"v":0.68,"s":"10⁰","g":"c3"},{"R":0.7109,"v":0.98,"s":"10⁰","g":"c3"},{"R":0.7146,"v":0.68,"s":"10⁰","g":"c3"},{"R":0.7183,"v":0.83,"s":"10⁰","g":"c3"},{"R":0.7239,"v":0.51,"s":"10⁰","g":"c3"},{"R":0.7295,"v":0.88,"s":"10⁰","g":"c3"},{"R":0.7342,"v":0.43,"s":"10⁰","g":"c3"},{"R":0.7388,"v":0.28,"s":"10⁰","g":"c3"},{"R":0.7426,"v":-1.75,"s":"10⁰","g":"c3"},
      {"R":0.9128,"v":-3.22,"s":"10⁰","g":"c4"},{"R":0.9175,"v":-1.92,"s":"10⁰","g":"c4"},{"R":0.9245,"v":-1.22,"s":"10⁰","g":"c4"},{"R":0.9338,"v":-2.32,"s":"10⁰","g":"c4"},{"R":0.9385,"v":-1.32,"s":"10⁰","g":"c4"},{"R":0.9455,"v":-0.77,"s":"10⁰","g":"c4"},{"R":0.9525,"v":0.38,"s":"10⁰","g":"c4"},{"R":0.9571,"v":0.43,"s":"10⁰","g":"c4"},{"R":0.9618,"v":0.58,"s":"10⁰","g":"c4"},{"R":0.9711,"v":0.61,"s":"10⁰","g":"c4"},{"R":0.9805,"v":0.78,"s":"10⁰","g":"c4"},{"R":0.9898,"v":0.73,"s":"10⁰","g":"c4"},{"R":0.9968,"v":0.91,"s":"10⁰","g":"c4"},{"R":1.0014,"v":0.63,"s":"10⁰","g":"c4"},{"R":1.0085,"v":0.68,"s":"10⁰","g":"c4"},{"R":1.0141,"v":0.53,"s":"10⁰","g":"c4"},{"R":1.0192,"v":0.86,"s":"10⁰","g":"c4"},{"R":1.0248,"v":0.28,"s":"10⁰","g":"c4"},{"R":1.0327,"v":0.88,"s":"10⁰","g":"c4"},{"R":1.0388,"v":0.13,"s":"10⁰","g":"c4"},{"R":1.0434,"v":0.08,"s":"10⁰","g":"c4"},{"R":1.0514,"v":-1.37,"s":"10⁰","g":"c4"},{"R":1.056,"v":-1.02,"s":"10⁰","g":"c4"},{"R":1.0691,"v":-2.49,"s":"10⁰","g":"c4"},
      {"R":1.2358,"v":-7.45,"s":"10⁰","g":"c5"},{"R":1.2396,"v":-2.17,"s":"10⁰","g":"c5"},{"R":1.2442,"v":-1.95,"s":"10⁰","g":"c5"},{"R":1.2484,"v":-3.62,"s":"10⁰","g":"c5"},
      {"R":1.2638,"v":-2.85,"s":"10⁰","g":"c6"},{"R":1.2685,"v":-2.12,"s":"10⁰","g":"c6"},{"R":1.2722,"v":-2.82,"s":"10⁰","g":"c6"},{"R":1.2764,"v":-2.27,"s":"10⁰","g":"c6"},{"R":1.2811,"v":-2.17,"s":"10⁰","g":"c6"},{"R":1.2885,"v":-1.62,"s":"10⁰","g":"c6"},{"R":1.2918,"v":-1.82,"s":"10⁰","g":"c6"},{"R":1.2979,"v":-1.39,"s":"10⁰","g":"c6"},{"R":1.3035,"v":-1.45,"s":"10⁰","g":"c6"},{"R":1.309,"v":-1.17,"s":"10⁰","g":"c6"},{"R":1.3151,"v":-0.55,"s":"10⁰","g":"c6"},{"R":1.3198,"v":-0.49,"s":"10⁰","g":"c6"},{"R":1.3245,"v":0.53,"s":"10⁰","g":"c6"},{"R":1.3277,"v":1.18,"s":"10⁰","g":"c6"},{"R":1.3315,"v":1.41,"s":"10⁰","g":"c6"},{"R":1.3361,"v":1.13,"s":"10⁰","g":"c6"},{"R":1.3408,"v":0.58,"s":"10⁰","g":"c6"},{"R":1.3445,"v":0.78,"s":"10⁰","g":"c6"},{"R":1.3482,"v":0.58,"s":"10⁰","g":"c6"},{"R":1.3557,"v":1.23,"s":"10⁰","g":"c6"},{"R":1.3594,"v":0.93,"s":"10⁰","g":"c6"},{"R":1.365,"v":0.53,"s":"10⁰","g":"c6"},{"R":1.3734,"v":0.48,"s":"10⁰","g":"c6"},{"R":1.3828,"v":0.33,"s":"10⁰","g":"c6"},{"R":1.3921,"v":0.08,"s":"10⁰","g":"c6"},{"R":1.3991,"v":0.28,"s":"10⁰","g":"c6"},{"R":1.4052,"v":0.15,"s":"10⁰","g":"c6"},{"R":1.4108,"v":-0.22,"s":"10⁰","g":"c6"},{"R":1.4164,"v":-0.49,"s":"10⁰","g":"c6"},{"R":1.4238,"v":-0.19,"s":"10⁰","g":"c6"},{"R":1.4318,"v":-0.42,"s":"10⁰","g":"c6"},{"R":1.4387,"v":-0.22,"s":"10⁰","g":"c6"},{"R":1.4481,"v":0.05,"s":"10⁰","g":"c6"},{"R":1.4574,"v":0.35,"s":"10⁰","g":"c6"},{"R":1.4667,"v":0.38,"s":"10⁰","g":"c6"},{"R":1.4737,"v":0.28,"s":"10⁰","g":"c6"},{"R":1.4807,"v":0.41,"s":"10⁰","g":"c6"},{"R":1.4877,"v":0.23,"s":"10⁰","g":"c6"},{"R":1.4938,"v":0.38,"s":"10⁰","g":"c6"},{"R":1.4994,"v":0.48,"s":"10⁰","g":"c6"},{"R":1.511,"v":0.18,"s":"10⁰","g":"c6"},{"R":1.5204,"v":0.31,"s":"10⁰","g":"c6"},{"R":1.5274,"v":0.08,"s":"10⁰","g":"c6"},{"R":1.539,"v":0.55,"s":"10⁰","g":"c6"},{"R":1.5507,"v":0.18,"s":"10⁰","g":"c6"},{"R":1.5647,"v":0.23,"s":"10⁰","g":"c6"},{"R":1.5717,"v":0.13,"s":"10⁰","g":"c6"},{"R":1.5787,"v":0.35,"s":"10⁰","g":"c6"},{"R":1.5857,"v":0.23,"s":"10⁰","g":"c6"},{"R":1.595,"v":0.13,"s":"10⁰","g":"c6"},{"R":1.6067,"v":0.25,"s":"10⁰","g":"c6"},{"R":1.6184,"v":0.3,"s":"10⁰","g":"c6"},{"R":1.6277,"v":0.18,"s":"10⁰","g":"c6"},{"R":1.637,"v":0.45,"s":"10⁰","g":"c6"},{"R":1.6463,"v":0.15,"s":"10⁰","g":"c6"},{"R":1.6557,"v":0.13,"s":"10⁰","g":"c6"},{"R":1.665,"v":0.31,"s":"10⁰","g":"c6"},{"R":1.672,"v":0.15,"s":"10⁰","g":"c6"},{"R":1.679,"v":0.28,"s":"10⁰","g":"c6"},{"R":1.6883,"v":0.15,"s":"10⁰","g":"c6"},{"R":1.693,"v":0.38,"s":"10⁰","g":"c6"},{"R":1.7,"v":0.33,"s":"10⁰","g":"c6"},{"R":1.7093,"v":0.13,"s":"10⁰","g":"c6"},{"R":1.7186,"v":0.18,"s":"10⁰","g":"c6"},{"R":1.7326,"v":0.25,"s":"10⁰","g":"c6"},{"R":1.7513,"v":0.21,"s":"10⁰","g":"c6"},{"R":1.7653,"v":0.15,"s":"10⁰","g":"c6"},{"R":1.812,"v":0.13,"s":"10⁰","g":"c6"},{"R":1.8586,"v":0.11,"s":"10⁰","g":"c6"},{"R":1.903,"v":0.08,"s":"10⁰","g":"c6"},{"R":1.937,"v":0.08,"s":"10⁰","g":"c6"},{"R":1.996,"v":0.06,"s":"10⁰","g":"c6"},{"R":2.089,"v":0.03,"s":"10⁰","g":"c6"},{"R":2.136,"v":0.03,"s":"10⁰","g":"c6"},{"R":2.164,"v":0.01,"s":"10⁰","g":"c6"},{"R":2.183,"v":0.05,"s":"10⁰","g":"c6"},{"R":2.199,"v":-0.05,"s":"10⁰","g":"c6"},{"R":2.215,"v":0.08,"s":"10⁰","g":"c6"},{"R":2.234,"v":-0.12,"s":"10⁰","g":"c6"},{"R":2.248,"v":0.18,"s":"10⁰","g":"c6"},{"R":2.264,"v":-0.45,"s":"10⁰","g":"c6"},{"R":2.276,"v":-0.32,"s":"10⁰","g":"c6"},{"R":2.283,"v":-0.02,"s":"10⁰","g":"c6"},{"R":2.288,"v":0.73,"s":"10⁰","g":"c6"},{"R":2.292,"v":0.78,"s":"10⁰","g":"c6"},{"R":2.296,"v":0.04,"s":"10⁰","g":"c6"},{"R":2.298,"v":-1.5,"s":"10⁰","g":"c6"}
    ]
  },
  "vconcat": [
    {
      "width": 1550,
      "height": 400,
      "data": {"name": "gas"},
      "layer": [
        {
          "mark": {"type": "line", "interpolate": "monotone", "strokeWidth": 2.5, "strokeJoin": "round", "clip": true},
          "encoding": {
            "x": {"field": "R", "type": "quantitative", "scale": {"domain": [0.4, 2.5], "nice": false, "zero": false},
                  "axis": {"orient": "bottom", "values": [0.5, 1, 1.5, 2, 2.5], "labels": false, "title": null}},
            "y": {"field": "v", "type": "quantitative", "scale": {"domain": [0, 2.5], "nice": false, "zero": false},
                  "axis": {"orient": "left", "values": [0.5, 1, 1.5, 2, 2.5], "format": ".1f", "title": "Σg/Σg, 0",
                           "titleFontSize": 53, "titleX": -89, "titleBaseline": "middle"}},
            "color": {"field": "s", "type": "nominal",
                      "scale": {"domain": ["0", "10⁻⁴", "10⁻³", "10⁻²", "10⁻¹", "10⁰"], "range": ["#000000", "#0000ff", "#ff0000", "#bfbf00", "#008000", "#00bfbf"]},
                      "legend": null}
          }
        },
        {
          "mark": {"type": "line", "strokeOpacity": 0},
          "encoding": {
            "x": {"field": "R", "type": "quantitative", "scale": {"domain": [0.4, 2.5], "nice": false, "zero": false},
                  "axis": {"orient": "top", "values": [0.5, 1, 1.5, 2, 2.5], "labels": false, "title": null}},
            "y": {"field": "v", "type": "quantitative", "scale": {"domain": [0, 2.5], "nice": false, "zero": false},
                  "axis": {"orient": "right", "values": [0.5, 1, 1.5, 2, 2.5], "labels": false, "title": null}}
          }
        }
      ],
      "resolve": {"axis": {"x": "independent", "y": "independent"}}
    },
    {
      "width": 1550,
      "height": 400,
      "data": {"name": "dust"},
      "layer": [
        {
          "mark": {"type": "line", "strokeWidth": 2.5, "strokeJoin": "round", "clip": true},
          "encoding": {
            "x": {"field": "R", "type": "quantitative", "scale": {"domain": [0.4, 2.5], "nice": false, "zero": false},
                  "axis": {"orient": "bottom", "values": [0.5, 1, 1.5, 2, 2.5], "format": ".1f", "title": "R (100 AU)",
                           "titleFontSize": 35, "titleY": 66, "titleBaseline": "alphabetic"}},
            "y": {"field": "v", "type": "quantitative", "scale": {"domain": [-10, 2], "nice": false, "zero": false},
                  "axis": {"orient": "left", "values": [1, 0, -1, -2, -3, -4, -5, -6, -7, -8, -9],
                           "labelExpr": "datum.value == 1 ? '10¹' : datum.value == 0 ? '10⁰' : datum.value == -1 ? '10⁻¹' : datum.value == -3 ? '10⁻³' : datum.value == -5 ? '10⁻⁵' : datum.value == -8 ? '10⁻⁸' : ''",
                           "title": "log₁₀(Σd2g)", "titleFontSize": 56, "titleFontStyle": "italic", "titleX": -105, "titleBaseline": "middle"}},
            "color": {"field": "s", "type": "nominal",
                      "scale": {"domain": ["0", "10⁻⁴", "10⁻³", "10⁻²", "10⁻¹", "10⁰"], "range": ["#000000", "#0000ff", "#ff0000", "#bfbf00", "#008000", "#00bfbf"]},
                      "legend": {"orient": "none", "legendX": 1318, "legendY": 93, "title": null,
                                 "symbolType": "stroke", "symbolSize": 1681, "symbolStrokeWidth": 3, "symbolOffset": 15,
                                 "labelFont": "Liberation Serif", "labelFontSize": 27, "labelColor": "black", "labelOffset": 29, "labelLimit": 300,
                                 "labelExpr": "'εd/g = ' + datum.label",
                                 "rowPadding": 13, "padding": 6, "strokeColor": "black", "fillColor": "white", "cornerRadius": 0}},
            "detail": {"field": "g"}
          }
        },
        {
          "mark": {"type": "rule", "color": "black", "strokeWidth": 1.5, "strokeDash": [10, 7]},
          "encoding": {"y": {"datum": 0, "type": "quantitative", "axis": null}}
        },
        {
          "mark": {"type": "line", "strokeOpacity": 0},
          "encoding": {
            "x": {"field": "R", "type": "quantitative", "scale": {"domain": [0.4, 2.5], "nice": false, "zero": false},
                  "axis": {"orient": "top", "values": [0.5, 1, 1.5, 2, 2.5], "labels": false, "title": null}},
            "y": {"field": "v", "type": "quantitative", "scale": {"domain": [-10, 2], "nice": false, "zero": false},
                  "axis": {"orient": "right", "values": [1, 0, -1, -2, -3, -4, -5, -6, -7, -8, -9], "labels": false, "title": null}}
          }
        }
      ],
      "resolve": {"axis": {"x": "independent", "y": "independent"}}
    }
  ]
}
